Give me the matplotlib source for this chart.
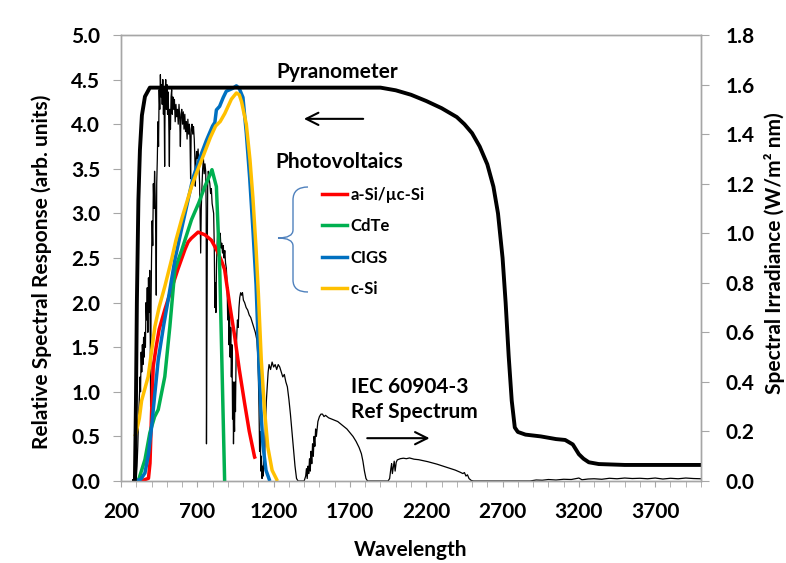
import matplotlib
matplotlib.use("Agg")
import matplotlib.pyplot as plt
from matplotlib.path import Path
from matplotlib.patches import PathPatch
from matplotlib.lines import Line2D
import numpy as np

plt.rcParams['font.family'] = ['Lato', 'DejaVu Sans']
plt.rcParams['font.weight'] = 'bold'

# pyranometer relative response (left axis)
pyr_nm = [285, 291, 298, 304, 314, 324, 337, 357, 389, 1900, 2000, 2100, 2200, 2300, 2400, 2450,
          2500, 2550, 2600, 2640, 2670, 2700, 2720, 2740, 2760, 2780, 2800, 2850, 2950, 3050,
          3110, 3160, 3200, 3230, 3265, 3330, 3500, 4000]
pyr_val = [0, 0, 0.9, 2.0, 3.15, 3.71, 4.1, 4.31, 4.41, 4.41, 4.38, 4.33, 4.26, 4.18, 4.08, 4.0,
           3.9, 3.75, 3.55, 3.3, 3.0, 2.5, 2.0, 1.4, 0.9, 0.6, 0.55, 0.52, 0.5, 0.47,
           0.46, 0.41, 0.3, 0.25, 0.21, 0.19, 0.18, 0.18]

# PV module spectral responses (left axis)
asi_nm = [330, 380, 390, 400, 411, 430, 450, 487, 530, 572, 620, 640, 660, 705, 750, 792,
          830, 858, 879, 910, 945, 975, 1010, 1040, 1075, 1080]
asi_val = [0, 0.03, 0.2, 0.75, 1.28, 1.5, 1.7, 1.92, 2.15, 2.37, 2.6, 2.68, 2.72, 2.79, 2.76, 2.7,
           2.58, 2.47, 2.37, 2.0, 1.62, 1.25, 0.87, 0.56, 0.27, 0.25]

cdte_nm = [313, 357, 389, 420, 444, 487, 520, 553, 600, 662, 710, 749, 780, 796, 825, 847, 879]
cdte_val = [0, 0.24, 0.54, 0.72, 0.8, 1.17, 1.73, 2.37, 2.6, 2.93, 3.12, 3.3, 3.42, 3.49, 3.3, 2.37, 0]

cigs_nm = [292, 330, 357, 380, 400, 420, 444, 480, 509, 553, 600, 672, 716, 760, 800, 815, 825,
           846, 870, 890, 930, 956, 975, 999, 1021, 1043, 1065, 1085, 1100, 1115, 1130, 1150, 1175]
cigs_val = [0, 0.02, 0.09, 0.3, 0.6, 0.95, 1.36, 1.75, 2.03, 2.48, 2.85, 3.4, 3.62, 3.82, 3.98,
            4.02, 4.16, 4.2, 4.3, 4.37, 4.4, 4.43, 4.4, 4.3, 3.9, 3.4, 2.8, 2.2, 1.5, 0.85, 0.4, 0.12, 0]

csi_nm = [292, 300, 320, 335, 378, 400, 422, 450, 487, 531, 560, 600, 662, 694, 740, 785, 820,
          850, 880, 923, 956, 975, 990, 1021, 1045, 1064, 1085, 1100, 1119, 1140, 1162, 1190, 1225]
csi_val = [0.5, 0.55, 0.7, 0.9, 1.17, 1.45, 1.73, 1.95, 2.18, 2.48, 2.7, 2.95, 3.3, 3.45, 3.65,
           3.85, 3.98, 4.03, 4.12, 4.28, 4.35, 4.33, 4.25, 4.0, 3.6, 3.18, 2.6, 2.1, 1.36, 0.8,
           0.38, 0.12, 0]

# IEC 60904-3 reference spectrum (right axis, W/m2 nm)
spec_nm = [280, 295, 300, 305, 310, 315, 320, 325, 328, 332, 336, 340, 344, 348, 352, 356, 360,
           364, 368, 372, 376, 380, 384, 388, 392, 394, 397, 400, 404, 408, 412, 416, 420, 424,
           428, 431, 434, 438, 442, 446, 450, 454, 458, 462, 466, 470, 474, 478, 482, 486, 489,
           493, 497, 501, 505, 509, 513, 517, 520, 524, 528, 532, 536, 540, 545, 550, 555, 560,
           565, 570, 575, 580, 585, 589, 593, 598, 603, 608, 613, 618, 623, 628, 633, 638, 643,
           648, 652, 656, 660, 665, 670, 675, 680, 684, 687, 690, 695, 700, 705, 710, 715, 719,
           722, 726, 730, 735, 740, 745, 750, 755, 758, 760, 762, 765, 768, 772, 777, 782, 787,
           792, 797, 802, 807, 811, 815, 818, 822, 826, 830, 835, 840, 845, 850, 855, 860, 865,
           870, 875, 880, 885, 890, 895, 899, 903, 907, 911, 915, 919, 923, 927, 931, 934, 937,
           940, 944, 947, 950, 954, 958, 963, 968, 973, 978, 984, 990, 996, 1002, 1010, 1020,
           1030, 1040, 1050, 1060, 1070, 1080, 1090, 1095, 1100, 1104, 1108, 1112, 1116, 1120,
           1124, 1128, 1132, 1136, 1140, 1144, 1148, 1152, 1158, 1164, 1170, 1180, 1190, 1200,
           1210, 1220, 1230, 1240, 1250, 1260, 1270, 1280, 1290, 1300, 1310, 1320, 1330, 1340,
           1350, 1360, 1400, 1410, 1415, 1420, 1425, 1430, 1435, 1440, 1445, 1450, 1455, 1460,
           1465, 1470, 1475, 1480, 1490, 1500, 1510, 1520, 1530, 1540, 1560, 1580, 1600, 1620,
           1640, 1660, 1680, 1700, 1720, 1740, 1760, 1775, 1785, 1795, 1805, 1815, 1950, 1960,
           1968, 1973, 1978, 1985, 1990, 1996, 2003, 2010, 2030, 2050, 2070, 2090, 2120, 2150,
           2180, 2210, 2240, 2270, 2300, 2330, 2360, 2390, 2420, 2440, 2450, 2460, 2470, 2480,
           2495, 2510, 2880, 2920, 2960, 3000, 3050, 3100, 3150, 3200, 3220, 3260, 3300, 3350,
           3400, 3450, 3500, 3550, 3600, 3650, 3700, 3750, 3800, 3850, 3900, 3950, 4000]
spec_val = [0, 0, 0.01, 0.06, 0.14, 0.25, 0.33, 0.42, 0.36, 0.52, 0.44, 0.55, 0.47, 0.58, 0.50,
            0.60, 0.54, 0.72, 0.65, 0.78, 0.60, 0.82, 0.68, 0.85, 0.55, 0.30, 0.72, 0.90, 1.05,
            0.95, 1.20, 1.10, 1.25, 1.15, 1.00, 0.75, 1.20, 1.30, 1.45, 1.35, 1.58, 1.50, 1.64,
            1.55, 1.60, 1.52, 1.62, 1.48, 1.58, 1.27, 1.55, 1.62, 1.50, 1.60, 1.48, 1.57, 1.45,
            1.27, 1.50, 1.42, 1.55, 1.58, 1.48, 1.55, 1.50, 1.54, 1.45, 1.52, 1.47, 1.50, 1.44,
            1.52, 1.46, 1.35, 1.48, 1.50, 1.44, 1.49, 1.42, 1.48, 1.41, 1.45, 1.38, 1.46, 1.40,
            1.44, 1.38, 1.22, 1.42, 1.44, 1.40, 1.43, 1.38, 1.30, 1.19, 1.28, 1.33, 1.30, 1.34,
            1.28, 1.20, 1.05, 0.92, 1.10, 1.18, 1.26, 1.30, 1.24, 1.28, 1.25, 1.10, 0.15, 0.45,
            0.90, 1.20, 1.25, 1.22, 1.20, 1.16, 1.18, 1.12, 1.10, 1.08, 0.95, 0.70, 0.80, 0.68,
            0.88, 0.96, 1.02, 1.00, 0.97, 1.00, 0.94, 0.96, 0.92, 0.95, 0.90, 0.93, 0.88, 0.86,
            0.80, 0.65, 0.78, 0.55, 0.70, 0.50, 0.62, 0.42, 0.55, 0.25, 0.40, 0.15, 0.30, 0.20,
            0.40, 0.28, 0.50, 0.58, 0.65, 0.62, 0.70, 0.74, 0.76, 0.75, 0.76, 0.73, 0.72, 0.70,
            0.69, 0.67, 0.66, 0.64, 0.62, 0.60, 0.57, 0.52, 0.42, 0.30, 0.12, 0.20, 0.04, 0.10,
            0.01, 0.06, 0.02, 0.10, 0.05, 0.18, 0.25, 0.32, 0.38, 0.44, 0.47, 0.45, 0.48, 0.46,
            0.47, 0.45, 0.47, 0.46, 0.44, 0.42, 0.43, 0.40, 0.38, 0.33, 0.27, 0.20, 0.13, 0.06,
            0.01, 0.0, 0.0, 0.02, 0.05, 0.01, 0.06, 0.03, 0.09, 0.04, 0.12, 0.07, 0.15, 0.10,
            0.18, 0.14, 0.21, 0.18, 0.24, 0.26, 0.27, 0.27, 0.26, 0.265, 0.255, 0.25, 0.245, 0.24,
            0.23, 0.22, 0.21, 0.195, 0.18, 0.16, 0.135, 0.11, 0.08, 0.04, 0.01, 0.0, 0.0, 0.01,
            0.05, 0.07, 0.03, 0.06, 0.08, 0.04, 0.075, 0.085, 0.09, 0.092, 0.09, 0.093, 0.088, 0.086,
            0.082, 0.078, 0.073, 0.068, 0.062, 0.056, 0.05, 0.044, 0.036, 0.03, 0.034, 0.02, 0.025, 0.01,
            0.002, 0.0, 0.0, 0.004, 0.003, 0.006, 0.004, 0.007, 0.006, 0.012, 0.005, 0.008, 0.009, 0.007,
            0.011, 0.009, 0.012, 0.01, 0.011, 0.009, 0.012, 0.008, 0.011, 0.009, 0.012, 0.01, 0.009]

x_major = np.arange(200, 4001, 500)
x_minor = np.arange(200, 4001, 100)
gray = '#A6A6A6'
fs = 15

fig = plt.figure(figsize=(7.86, 5.63), dpi=100)
ax = fig.add_axes([121 / 786, 82 / 563, 580 / 786, 446 / 563])
ax2 = ax.twinx()
ax.set_zorder(ax2.get_zorder() + 1)
ax.patch.set_visible(False)

ax2.plot(spec_nm, spec_val, color='black', lw=0.9)
ax.plot(asi_nm, asi_val, color='#FF0000', lw=2.5, solid_capstyle='butt')
ax.plot(cdte_nm, cdte_val, color='#00B050', lw=2.5, solid_capstyle='butt')
ax.plot(cigs_nm, cigs_val, color='#0070C0', lw=2.5, solid_capstyle='butt')
ax.plot(csi_nm, csi_val, color='#FFC000', lw=2.5, solid_capstyle='butt')
ax.plot(pyr_nm, pyr_val, color='black', lw=2.8)

ax.set_xlim(200, 4000)
ax.set_ylim(0, 5)
ax2.set_ylim(0, 1.8)
ax.set_xticks(x_major)
ax.set_xticks(x_minor, minor=True)
ax.set_yticks(np.arange(0, 5.01, 0.5))
ax2.set_yticks(np.arange(0, 1.81, 0.2))
ax.yaxis.set_major_formatter(matplotlib.ticker.FormatStrFormatter('%.1f'))
ax2.yaxis.set_major_formatter(matplotlib.ticker.FormatStrFormatter('%.1f'))

for a in (ax, ax2):
    for s in a.spines.values():
        s.set_color(gray)
        s.set_linewidth(1.0)
ax.tick_params(axis='x', which='both', direction='out', length=4, color=gray, labelsize=fs, pad=11)
ax.tick_params(axis='y', direction='out', length=6, color=gray, labelsize=fs, pad=9)
ax2.tick_params(axis='y', direction='out', length=6, color=gray, labelsize=fs, pad=12)

ax.set_xlabel('Wavelength', fontsize=fs, fontweight='bold', labelpad=13)
ax.set_ylabel('Relative Spectral Response (arb. units)', fontsize=fs, fontweight='bold')
ax2.set_ylabel('Spectral Irradiance (W/m² nm)', fontsize=fs, fontweight='bold')
ax.yaxis.set_label_coords(-0.119, 0.47)
ax2.yaxis.set_label_coords(1.108, 0.51)

# annotations
ax.text(1617, 4.59, 'Pyranometer', fontsize=fs, fontweight='bold', ha='center', va='center')
ax.annotate('', xy=(1380, 4.06), xytext=(1805, 4.06),
            arrowprops=dict(arrowstyle='->', lw=1.5, color='black', mutation_scale=22))
ax.text(1630, 3.58, 'Photovoltaics', fontsize=fs, fontweight='bold', ha='center', va='center')
ax.text(1709, 1.05, 'IEC 60904-3', fontsize=fs, fontweight='bold', ha='left', va='center')
ax.text(1709, 0.77, 'Ref Spectrum', fontsize=fs, fontweight='bold', ha='left', va='center')
ax.annotate('', xy=(2240, 0.48), xytext=(1795, 0.48),
            arrowprops=dict(arrowstyle='->', lw=1.5, color='black', mutation_scale=22))

# curly brace next to the legend
def fp(x, y):
    return (x / 786, 1 - y / 563)

verts = [fp(308, 187), fp(293, 187), fp(293, 200), fp(293, 230), fp(293, 238), fp(278, 238),
         fp(293, 238), fp(293, 246), fp(293, 280), fp(293, 292), fp(308, 292)]
codes = [Path.MOVETO, Path.CURVE3, Path.CURVE3, Path.LINETO, Path.CURVE3, Path.CURVE3,
         Path.CURVE3, Path.CURVE3, Path.LINETO, Path.CURVE3, Path.CURVE3]
fig.patches.append(PathPatch(Path(verts, codes), transform=fig.transFigure,
                             fill=False, edgecolor='#4F81BD', lw=1.0))

handles = [Line2D([], [], color=c, lw=2.5) for c in ['#FF0000', '#00B050', '#0070C0', '#FFC000']]
labels = ['a-Si/µc-Si', 'CdTe', 'CIGS', 'c-Si']
fig.legend(handles, labels, loc='upper left', bbox_to_anchor=fp(322, 187), frameon=False,
           handlelength=1.5, handletextpad=0.2, labelspacing=0.92,
           borderpad=0, borderaxespad=0, prop={'weight': 'bold', 'size': 12})

fig.savefig('out.png', dpi=100)
